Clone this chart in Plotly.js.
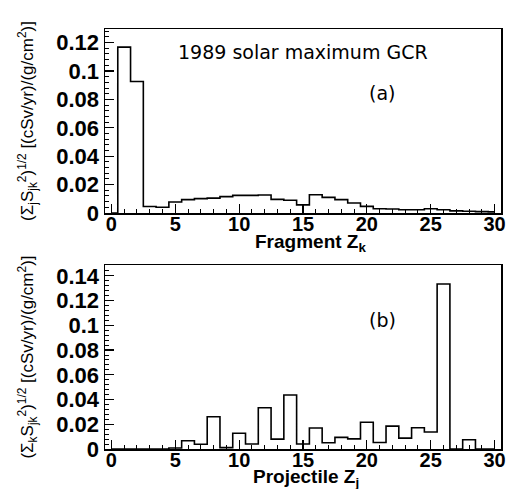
<!DOCTYPE html>
<html>
<head>
<meta charset="utf-8">
<script src="https://cdn.plot.ly/plotly-3.0.1.min.js"></script>
<style>
  html, body { margin: 0; padding: 0; background: #ffffff; }
  #chart { width: 514px; height: 489px; }
</style>
</head>
<body>
<div id="chart"></div>
<script>
// Charge Z (bin centres)
const chargeZ = [0,1,2,3,4,5,6,7,8,9,10,11,12,13,14,15,16,17,18,19,20,21,22,23,24,25,26,27,28,29,30];

// (a) fragment contribution, (sum_j S_jk^2)^(1/2)
const fragmentValues = [0, 0.1168, 0.0926, 0.0046, 0.0040, 0.0077, 0.0094, 0.0101, 0.0105, 0.0115,
  0.0124, 0.0124, 0.0127, 0.0096, 0.0090, 0.0057, 0.0129, 0.0110, 0.0094, 0.0070,
  0.0047, 0.0030, 0.0028, 0.0023, 0.0023, 0.0030, 0.0023, 0.0015, 0.0012, 0.0010, 0.0008];

// (b) projectile contribution, (sum_k S_jk^2)^(1/2)
const projectileValues = [0, 0, 0, 0, 0, 0.0008, 0.0067, 0.0038, 0.0261, 0.0011,
  0.0127, 0.0040, 0.0334, 0.0080, 0.0437, 0.0040, 0.0170, 0.0050, 0.0094, 0.0082,
  0.0216, 0.0053, 0.0185, 0.0088, 0.0172, 0.0137, 0.1334, 0, 0.0075, 0, 0];

const xTickVals = [0, 5, 10, 15, 20, 25, 30];
const yTickValsA = [0, 0.02, 0.04, 0.06, 0.08, 0.1, 0.12];
const yTickTextA = ["0", "0.02", "0.04", "0.06", "0.08", "0.1", "0.12"];
const yTickValsB = [0, 0.02, 0.04, 0.06, 0.08, 0.1, 0.12, 0.14];
const yTickTextB = ["0", "0.02", "0.04", "0.06", "0.08", "0.1", "0.12", "0.14"];

const W = 514, H = 489;
const L = 105, R = 13, T = 29, B = 40;
const PW = W - L - R, PH = H - T - B;
// pixel -> paper helpers for layout placement
const px = v => (v - L) / PW;
const py = v => (H - B - v) / PH;

const xTickFont = { family: "Liberation Sans, Arial, sans-serif", size: 20, color: "#000", weight: "bold" };
const yTickFont = { family: "Liberation Sans, Arial, sans-serif", size: 22, color: "#000", weight: "bold" };
const yTitleFont = { family: "Liberation Sans, Arial, sans-serif", size: 17, color: "#000" };

function xAxis(anchor) {
  return {
    anchor: anchor,
    domain: [0, 1],
    range: [-0.5, 30.5],
    tickvals: xTickVals,
    ticks: "inside", ticklen: 9, tickwidth: 1.2, tickcolor: "#000",
    minor: { dtick: 1, tick0: 0, ticks: "inside", ticklen: 4, tickwidth: 1, tickcolor: "#000" },
    showline: true, mirror: true, linecolor: "#000", linewidth: 1.5,
    showgrid: false, zeroline: false,
    ticklabelstandoff: -8,
    tickfont: xTickFont
  };
}
function yAxis(anchor, top, bottom, maxV, vals, texts, title) {
  return {
    anchor: anchor,
    domain: [py(bottom), py(top)],
    range: [0, maxV],
    tickvals: vals, ticktext: texts,
    ticks: "inside", ticklen: 9, tickwidth: 1.2, tickcolor: "#000",
    minor: { dtick: 0.004, tick0: 0, ticks: "inside", ticklen: 4, tickwidth: 1, tickcolor: "#000" },
    showline: true, mirror: true, linecolor: "#000", linewidth: 1.5,
    showgrid: false, zeroline: false,
    tickfont: yTickFont,
    title: { text: title, font: yTitleFont, standoff: 18 }
  };
}

const traces = [
  { x: chargeZ, y: fragmentValues, xaxis: "x", yaxis: "y", type: "scatter", mode: "lines",
    line: { shape: "hvh", color: "#000", width: 1.6 }, hoverinfo: "skip" },
  { x: chargeZ, y: projectileValues, xaxis: "x2", yaxis: "y2", type: "scatter", mode: "lines",
    line: { shape: "hvh", color: "#000", width: 1.6 }, hoverinfo: "skip" }
];

const ann = (x, y, text, font) => ({ xref: "paper", yref: "paper", x: px(x), y: py(y), text: text,
  showarrow: false, xanchor: "center", yanchor: "middle", font: font });

const layout = {
  width: W, height: H,
  margin: { l: L, r: R, t: T, b: B },
  paper_bgcolor: "#fff", plot_bgcolor: "#fff",
  showlegend: false,
  xaxis: xAxis("y"),
  yaxis: yAxis("x", 29, 213, 0.1296, yTickValsA, yTickTextA,
    "(Σ<sub>j</sub>S<sub>jk</sub><sup>2</sup>)<sup>1/2</sup> [(cSv/yr)/(g/cm<sup>2</sup>)]"),
  xaxis2: xAxis("y2"),
  yaxis2: yAxis("x2", 265, 449, 0.1488, yTickValsB, yTickTextB,
    "(Σ<sub>k</sub>S<sub>jk</sub><sup>2</sup>)<sup>1/2</sup> [(cSv/yr)/(g/cm<sup>2</sup>)]"),
  annotations: [
    ann(303, 52, "1989 solar maximum GCR", { family: "DejaVu Sans, sans-serif", size: 19, color: "#000" }),
    ann(382, 93, "(a)", { family: "DejaVu Sans, sans-serif", size: 19, color: "#000" }),
    ann(382, 320, "(b)", { family: "DejaVu Sans, sans-serif", size: 19, color: "#000" }),
    ann(310, 243, "Fragment Z<sub>k</sub>", { family: "Liberation Sans, Arial, sans-serif", size: 19, color: "#000", weight: "bold" }),
    ann(306, 478, "Projectile Z<sub>j</sub>", { family: "Liberation Sans, Arial, sans-serif", size: 19, color: "#000", weight: "bold" })
  ]
};

Plotly.newPlot("chart", traces, layout, { staticPlot: true, displayModeBar: false });
</script>
</body>
</html>
